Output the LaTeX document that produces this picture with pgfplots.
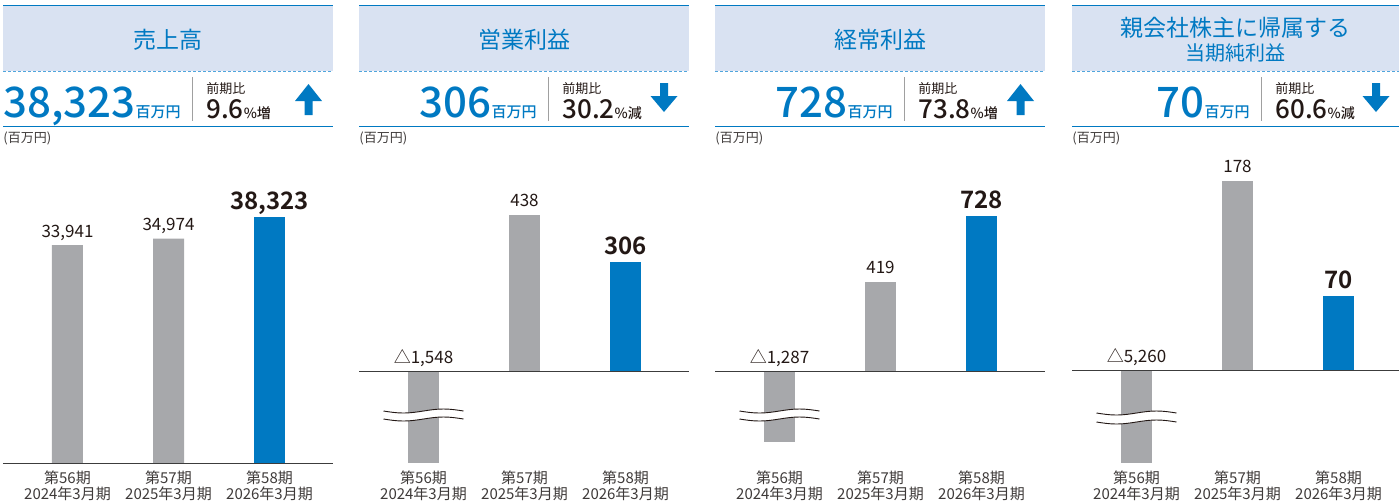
\documentclass[border=0pt]{standalone}
\usepackage{pgfplots}
\pgfplotsset{compat=1.18}
\usepackage{fontspec}
\setmainfont{Noto Sans CJK JP}[BoldFont={Noto Sans CJK JP Bold}]
\newfontfamily\medfont{Noto Sans CJK JP Medium}

\definecolor{mainblue}{RGB}{0,121,194}
\definecolor{headfill}{RGB}{217,226,242}
\definecolor{dashblue}{RGB}{80,165,220}
\definecolor{bargray}{RGB}{167,168,171}
\definecolor{textdark}{RGB}{35,24,21}
\definecolor{labelgray}{RGB}{62,58,57}
\definecolor{sepgray}{RGB}{160,160,160}
\definecolor{axisline}{RGB}{60,60,60}

% px -> pt : 1px = 0.5pt, y downward
\newcommand{\panelhead}[6]{%
  \fill[headfill] (#1,6) rectangle ({#1+#2},71);
  \draw[line width=0.75pt, mainblue] (#1,5.5) -- ++(#2,0);
  \draw[line width=0.6pt, dashblue, dash pattern=on 1.5pt off 1pt] (#1,71.5) -- ++(#2,0);
  \draw[line width=0.6pt, mainblue] (#1,126.7) -- ++(#2,0);
  \draw[sepgray, line width=0.45pt] ({#1+189},77) -- ({#1+189},121);
  \node[anchor=center, align=center, text=mainblue, inner sep=0pt] at ({#1+#2/2},40) {\fontsize{11.5}{15}\selectfont #3};
  \node[anchor=base east, inner sep=0pt, text=mainblue] at ({#1+178},117) {\medfont\fontsize{21}{21}\selectfont #4\fontsize{7.5}{8}\selectfont 百万円};
  \node[anchor=base west, inner sep=0pt, text=textdark] at ({#1+203},93) {\fontsize{6.5}{7}\selectfont 前期比};
  \node[anchor=base west, inner sep=0pt, text=textdark] at ({#1+203},118) {\medfont\fontsize{13}{13}\selectfont #5\fontsize{7}{7}\selectfont\%#6};
  \node[anchor=west, inner sep=0pt, text=labelgray] at (#1,138) {\fontsize{6.5}{7}\selectfont (百万円)};
}
\newcommand{\uparr}[1]{\fill[mainblue] ({#1-4},115) -- ({#1-4},101) -- ({#1-13.5},101) -- (#1,84) -- ({#1+13.5},101) -- ({#1+4},101) -- ({#1+4},115) -- cycle;}
\newcommand{\downarr}[1]{\fill[mainblue] ({#1-4},83) -- ({#1-4},96) -- ({#1-13.5},96) -- (#1,112) -- ({#1+13.5},96) -- ({#1+4},96) -- ({#1+4},83) -- cycle;}
\newcommand{\wave}[3]{% cx, y1, y2
  \fill[white] ({#1-40},#2) sin ({#1-20},{#2+2}) cos (#1,#2) sin ({#1+20},{#2-2}) cos ({#1+40},#2)
     -- ({#1+40},#3) sin ({#1+20},{#3-2}) cos (#1,#3) sin ({#1-20},{#3+2}) cos ({#1-40},#3) -- cycle;
  \draw[textdark, line width=0.45pt] ({#1-40},#2) sin ({#1-20},{#2+2}) cos (#1,#2) sin ({#1+20},{#2-2}) cos ({#1+40},#2);
  \draw[textdark, line width=0.45pt] ({#1-40},#3) sin ({#1-20},{#3+2}) cos (#1,#3) sin ({#1-20+40},{#3-2}) cos ({#1+40},#3);
}

\pgfplotsset{
  panel/.style={
    scale only axis, width=165pt, height=158pt, anchor=south west,
    ybar, bar width=15.5pt, clip=false,
    xmin=-0.6386, xmax=2.6287,
    axis line style={draw=none}, tick style={draw=none},
    ytick=\empty, xtick={0,1,2},
    xticklabels={{第56期\\2024年3月期},{第57期\\2025年3月期},{第58期\\2026年3月期}},
    xticklabel style={align=center, font=\fontsize{7.5}{8}\selectfont, text=labelgray, inner sep=0pt, yshift=2.3pt},
    point meta=explicit symbolic,
  },
  graybars/.style={fill=bargray, draw=none, bar shift=0pt,
    nodes near coords, nodes near coords align={anchor=base},
    every node near coord/.append style={font=\fontsize{8.5}{9}\selectfont, text=textdark, inner sep=0pt, yshift=4pt}},
  bluebars/.style={fill=mainblue, draw=none, bar shift=0pt,
    nodes near coords, nodes near coords align={anchor=base},
    every node near coord/.append style={font=\bfseries\fontsize{12}{12}\selectfont, text=textdark, inner sep=0pt, yshift=4pt}},
  negbar/.style={fill=bargray, draw=none, bar shift=0pt},
}

\begin{document}
\begin{tikzpicture}[x=0.5pt,y=-0.5pt]
\path[use as bounding box] (0,0) rectangle (1399,500);

% ---------- Panel 1 ----------
\panelhead{3}{330}{売上高}{38,323}{9.6}{増}
\uparr{308.5}
\begin{axis}[panel, at={(1.5pt,-233pt)}, ymin=-467, ymax=48762]
\addplot[graybars] table[x=x,y=y,meta=l] {
x y l
0 33941 33,941
1 34974 34,974
};
\addplot[bluebars] table[x=x,y=y,meta=l] {
x y l
2 38323 38,323
};
\draw[axisline, line width=0.5pt] (axis cs:-0.6386,0) -- (axis cs:2.6287,0);
\end{axis}

% ---------- Panel 2 ----------
\panelhead{359}{330}{営業利益}{306}{30.2}{減}
\downarr{664}
\begin{axis}[panel, at={(179.5pt,-233pt)}, ymin=-266.7, ymax=620.4]
\addplot[negbar] table[x=x,y=y,meta=l] {
x y l
0 -258.3 -1548
};
\addplot[graybars] table[x=x,y=y,meta=l] {
x y l
1 438 438
};
\addplot[bluebars] table[x=x,y=y,meta=l] {
x y l
2 306 306
};
\draw[axisline, line width=0.5pt] (axis cs:-0.6386,0) -- (axis cs:2.6287,0);
\node[anchor=base, inner sep=0pt, yshift=4pt, text=textdark, font=\fontsize{8.5}{9}\selectfont] at (axis cs:0,0) {△1,548};
\end{axis}
\wave{423.5}{411}{419}

% ---------- Panel 3 ----------
\panelhead{715}{330}{経常利益}{728}{73.8}{増}
\uparr{1020.5}
\begin{axis}[panel, at={(357.5pt,-233pt)}, ymin=-446.2, ymax=1038.0]
\addplot[negbar] table[x=x,y=y,meta=l] {
x y l
0 -333.5 -1287
};
\addplot[graybars] table[x=x,y=y,meta=l] {
x y l
1 419 419
};
\addplot[bluebars] table[x=x,y=y,meta=l] {
x y l
2 728 728
};
\draw[axisline, line width=0.5pt] (axis cs:-0.6386,0) -- (axis cs:2.6287,0);
\node[anchor=base, inner sep=0pt, yshift=4pt, text=textdark, font=\fontsize{8.5}{9}\selectfont] at (axis cs:0,0) {△1,287};
\end{axis}
\wave{779.5}{411}{419}

% ---------- Panel 4 ----------
\panelhead{1072}{327}{親会社株主に帰属する\\当期純利益}{70}{60.6}{減}
\downarr{1376}
\begin{axis}[panel, at={(536pt,-233pt)}, width=163.5pt, xmax=2.599, ymin=-89.0, ymax=207.0]
\addplot[negbar] table[x=x,y=y,meta=l] {
x y l
0 -86.2 -5260
};
\addplot[graybars] table[x=x,y=y,meta=l] {
x y l
1 178 178
};
\addplot[bluebars] table[x=x,y=y,meta=l] {
x y l
2 70 70
};
\draw[axisline, line width=0.5pt] (axis cs:-0.6386,0) -- (axis cs:2.599,0);
\node[anchor=base, inner sep=0pt, yshift=4pt, text=textdark, font=\fontsize{8.5}{9}\selectfont] at (axis cs:0,0) {△5,260};
\end{axis}
\wave{1136.5}{413}{422}

\end{tikzpicture}
\end{document}
